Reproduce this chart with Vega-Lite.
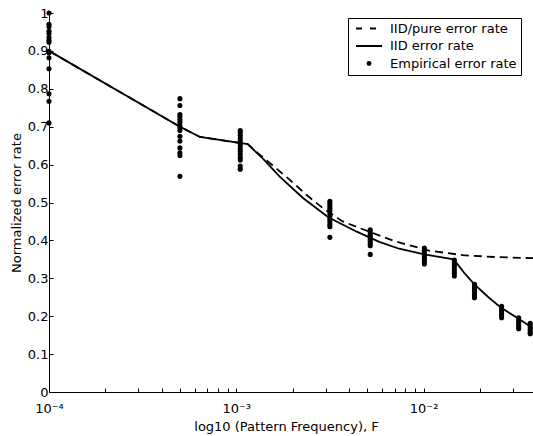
{
  "$schema": "https://vega.github.io/schema/vega-lite/v6.json",
  "width": 484,
  "height": 379,
  "autosize": {"type": "none"},
  "padding": {"left": 49, "top": 13, "right": 0, "bottom": 44},
  "background": "white",
  "config": {
    "view": {"stroke": null},
    "font": "DejaVu Sans",
    "axis": {
      "domainColor": "black", "tickColor": "black", "labelColor": "black", "titleColor": "black",
      "labelFont": "DejaVu Sans", "titleFont": "DejaVu Sans", "labelFontSize": 13, "titleFontSize": 13,
      "titleFontWeight": "normal", "grid": false, "labelFlush": false, "labelOverlap": false, "labelBound": false,
      "domainWidth": 1, "tickWidth": 1
    }
  },
  "datasets": {
    "lines": [
      {"F": 0.0001, "rate": 0.900, "series": "IID/pure error rate"},
      {"F": 0.0005, "rate": 0.700, "series": "IID/pure error rate"},
      {"F": 0.00064, "rate": 0.673, "series": "IID/pure error rate"},
      {"F": 0.00115, "rate": 0.654, "series": "IID/pure error rate"},
      {"F": 0.0013, "rate": 0.631, "series": "IID/pure error rate"},
      {"F": 0.00192, "rate": 0.561, "series": "IID/pure error rate"},
      {"F": 0.00236, "rate": 0.521, "series": "IID/pure error rate"},
      {"F": 0.0029, "rate": 0.485, "series": "IID/pure error rate"},
      {"F": 0.0037, "rate": 0.450, "series": "IID/pure error rate"},
      {"F": 0.0047, "rate": 0.430, "series": "IID/pure error rate"},
      {"F": 0.0056, "rate": 0.416, "series": "IID/pure error rate"},
      {"F": 0.0071, "rate": 0.397, "series": "IID/pure error rate"},
      {"F": 0.0107, "rate": 0.373, "series": "IID/pure error rate"},
      {"F": 0.0162, "rate": 0.361, "series": "IID/pure error rate"},
      {"F": 0.0243, "rate": 0.356, "series": "IID/pure error rate"},
      {"F": 0.0384, "rate": 0.353, "series": "IID/pure error rate"},
      {"F": 0.0001, "rate": 0.900, "series": "IID error rate"},
      {"F": 0.0005, "rate": 0.700, "series": "IID error rate"},
      {"F": 0.00064, "rate": 0.673, "series": "IID error rate"},
      {"F": 0.00115, "rate": 0.654, "series": "IID error rate"},
      {"F": 0.0014, "rate": 0.614, "series": "IID error rate"},
      {"F": 0.0017, "rate": 0.569, "series": "IID error rate"},
      {"F": 0.00227, "rate": 0.512, "series": "IID error rate"},
      {"F": 0.0031, "rate": 0.461, "series": "IID error rate"},
      {"F": 0.0044, "rate": 0.423, "series": "IID error rate"},
      {"F": 0.0058, "rate": 0.396, "series": "IID error rate"},
      {"F": 0.0074, "rate": 0.378, "series": "IID error rate"},
      {"F": 0.0101, "rate": 0.363, "series": "IID error rate"},
      {"F": 0.0145, "rate": 0.350, "series": "IID error rate"},
      {"F": 0.0165, "rate": 0.314, "series": "IID error rate"},
      {"F": 0.0187, "rate": 0.284, "series": "IID error rate"},
      {"F": 0.0222, "rate": 0.250, "series": "IID error rate"},
      {"F": 0.026, "rate": 0.222, "series": "IID error rate"},
      {"F": 0.0322, "rate": 0.193, "series": "IID error rate"},
      {"F": 0.0384, "rate": 0.168, "series": "IID error rate"}
    ],
    "points": [
      {"F": 0.0001, "rate": 1.0}, {"F": 0.0001, "rate": 0.970}, {"F": 0.0001, "rate": 0.964},
      {"F": 0.0001, "rate": 0.952}, {"F": 0.0001, "rate": 0.945}, {"F": 0.0001, "rate": 0.935},
      {"F": 0.0001, "rate": 0.928}, {"F": 0.0001, "rate": 0.923}, {"F": 0.0001, "rate": 0.899},
      {"F": 0.0001, "rate": 0.895}, {"F": 0.0001, "rate": 0.882}, {"F": 0.0001, "rate": 0.853},
      {"F": 0.0001, "rate": 0.787}, {"F": 0.0001, "rate": 0.767}, {"F": 0.0001, "rate": 0.710},
      {"F": 0.0005, "rate": 0.774}, {"F": 0.0005, "rate": 0.756}, {"F": 0.0005, "rate": 0.732},
      {"F": 0.0005, "rate": 0.726}, {"F": 0.0005, "rate": 0.719}, {"F": 0.0005, "rate": 0.712},
      {"F": 0.0005, "rate": 0.703}, {"F": 0.0005, "rate": 0.697}, {"F": 0.0005, "rate": 0.690},
      {"F": 0.0005, "rate": 0.675}, {"F": 0.0005, "rate": 0.662}, {"F": 0.0005, "rate": 0.644},
      {"F": 0.0005, "rate": 0.631}, {"F": 0.0005, "rate": 0.624}, {"F": 0.0005, "rate": 0.569},
      {"F": 0.00105, "rate": 0.690}, {"F": 0.00105, "rate": 0.684}, {"F": 0.00105, "rate": 0.677},
      {"F": 0.00105, "rate": 0.670}, {"F": 0.00105, "rate": 0.663}, {"F": 0.00105, "rate": 0.656},
      {"F": 0.00105, "rate": 0.649}, {"F": 0.00105, "rate": 0.642}, {"F": 0.00105, "rate": 0.635},
      {"F": 0.00105, "rate": 0.627}, {"F": 0.00105, "rate": 0.619}, {"F": 0.00105, "rate": 0.612},
      {"F": 0.00105, "rate": 0.596}, {"F": 0.00105, "rate": 0.588},
      {"F": 0.00316, "rate": 0.503}, {"F": 0.00316, "rate": 0.497}, {"F": 0.00316, "rate": 0.491},
      {"F": 0.00316, "rate": 0.485}, {"F": 0.00316, "rate": 0.479}, {"F": 0.00316, "rate": 0.470},
      {"F": 0.00316, "rate": 0.462}, {"F": 0.00316, "rate": 0.455}, {"F": 0.00316, "rate": 0.449},
      {"F": 0.00316, "rate": 0.442}, {"F": 0.00316, "rate": 0.436}, {"F": 0.00316, "rate": 0.408},
      {"F": 0.00519, "rate": 0.428}, {"F": 0.00519, "rate": 0.422}, {"F": 0.00519, "rate": 0.416},
      {"F": 0.00519, "rate": 0.410}, {"F": 0.00519, "rate": 0.404}, {"F": 0.00519, "rate": 0.398},
      {"F": 0.00519, "rate": 0.392}, {"F": 0.00519, "rate": 0.386}, {"F": 0.00519, "rate": 0.363},
      {"F": 0.0101, "rate": 0.380}, {"F": 0.0101, "rate": 0.374}, {"F": 0.0101, "rate": 0.368},
      {"F": 0.0101, "rate": 0.362}, {"F": 0.0101, "rate": 0.356}, {"F": 0.0101, "rate": 0.350},
      {"F": 0.0101, "rate": 0.344}, {"F": 0.0101, "rate": 0.338},
      {"F": 0.0146, "rate": 0.348}, {"F": 0.0146, "rate": 0.341}, {"F": 0.0146, "rate": 0.334},
      {"F": 0.0146, "rate": 0.327}, {"F": 0.0146, "rate": 0.320}, {"F": 0.0146, "rate": 0.313},
      {"F": 0.0146, "rate": 0.306},
      {"F": 0.0187, "rate": 0.284}, {"F": 0.0187, "rate": 0.278}, {"F": 0.0187, "rate": 0.272},
      {"F": 0.0187, "rate": 0.266}, {"F": 0.0187, "rate": 0.260}, {"F": 0.0187, "rate": 0.254},
      {"F": 0.0187, "rate": 0.249},
      {"F": 0.0261, "rate": 0.226}, {"F": 0.0261, "rate": 0.220}, {"F": 0.0261, "rate": 0.214},
      {"F": 0.0261, "rate": 0.208}, {"F": 0.0261, "rate": 0.202}, {"F": 0.0261, "rate": 0.196},
      {"F": 0.0322, "rate": 0.196}, {"F": 0.0322, "rate": 0.190}, {"F": 0.0322, "rate": 0.184},
      {"F": 0.0322, "rate": 0.178}, {"F": 0.0322, "rate": 0.172}, {"F": 0.0322, "rate": 0.167},
      {"F": 0.0371, "rate": 0.181}, {"F": 0.0371, "rate": 0.175}, {"F": 0.0371, "rate": 0.169},
      {"F": 0.0371, "rate": 0.163}, {"F": 0.0371, "rate": 0.157}, {"F": 0.0371, "rate": 0.154}
    ]
  },
  "encoding": {
    "x": {
      "field": "F", "type": "quantitative",
      "scale": {"type": "log", "domain": [0.0001, 0.0384], "nice": false},
      "axis": {
        "title": "log10 (Pattern Frequency), F",
        "values": [0.0001, 0.0002, 0.0003, 0.0004, 0.0005, 0.0006, 0.0007, 0.0008, 0.0009,
                   0.001, 0.002, 0.003, 0.004, 0.005, 0.006, 0.007, 0.008, 0.009,
                   0.01, 0.02, 0.03],
        "labelExpr": "datum.value == 0.0001 ? '10⁻⁴' : datum.value == 0.001 ? '10⁻³' : datum.value == 0.01 ? '10⁻²' : ''",
        "tickSize": -4,
        "labelPadding": 14,
        "titlePadding": 5,
        "titleX": 237
      }
    },
    "y": {
      "field": "rate", "type": "quantitative",
      "scale": {"domain": [0, 1], "nice": false, "zero": false},
      "axis": {
        "title": "Normalized error rate",
        "values": [0, 0.1, 0.2, 0.3, 0.4, 0.5, 0.6, 0.7, 0.8, 0.9, 1],
        "format": "~g",
        "tickSize": -4,
        "labelPadding": 5,
        "titlePadding": 4
      }
    },
    "color": {
      "field": "series", "type": "nominal",
      "scale": {"domain": ["IID/pure error rate", "IID error rate", "Empirical error rate"], "range": ["black", "black", "black"]},
      "legend": {
        "title": null,
        "orient": "none",
        "legendX": 299,
        "legendY": 5,
        "strokeColor": "black",
        "fillColor": "white",
        "padding": 4,
        "labelFont": "DejaVu Sans",
        "labelFontSize": 13,
        "labelColor": "black",
        "labelOffset": 25,
        "rowPadding": 3.5,
        "symbolSize": 676,
        "symbolStrokeWidth": 1.6,
        "encode": {
          "symbols": {
            "update": {
              "x": {"value": 17},
              "shape": {"signal": "datum.value === 'Empirical error rate' ? 'circle' : 'stroke'"},
              "size": {"signal": "datum.value === 'Empirical error rate' ? 24 : 676"},
              "strokeDash": {"signal": "datum.value === 'IID/pure error rate' ? [6, 8] : [1, 0]"},
              "strokeWidth": {"signal": "datum.value === 'Empirical error rate' ? 0 : 1.8"},
              "fill": {"value": "black"},
              "stroke": {"value": "black"},
              "opacity": {"value": 1}
            }
          }
        }
      }
    }
  },
  "layer": [
    {
      "data": {"name": "lines"},
      "transform": [{"filter": "datum.series == 'IID/pure error rate'"}],
      "mark": {"type": "line", "strokeDash": [8, 5], "strokeWidth": 1.8, "clip": true},
      "encoding": {"y": {"field": "rate", "type": "quantitative"}}
    },
    {
      "data": {"name": "lines"},
      "transform": [{"filter": "datum.series == 'IID error rate'"}],
      "mark": {"type": "line", "strokeWidth": 1.8, "clip": true},
      "encoding": {"y": {"field": "rate", "type": "quantitative"}}
    },
    {
      "data": {"name": "points"},
      "transform": [{"calculate": "'Empirical error rate'", "as": "series"}],
      "mark": {"type": "point", "filled": true, "size": 26, "opacity": 1},
      "encoding": {"y": {"field": "rate", "type": "quantitative"}}
    }
  ]
}
